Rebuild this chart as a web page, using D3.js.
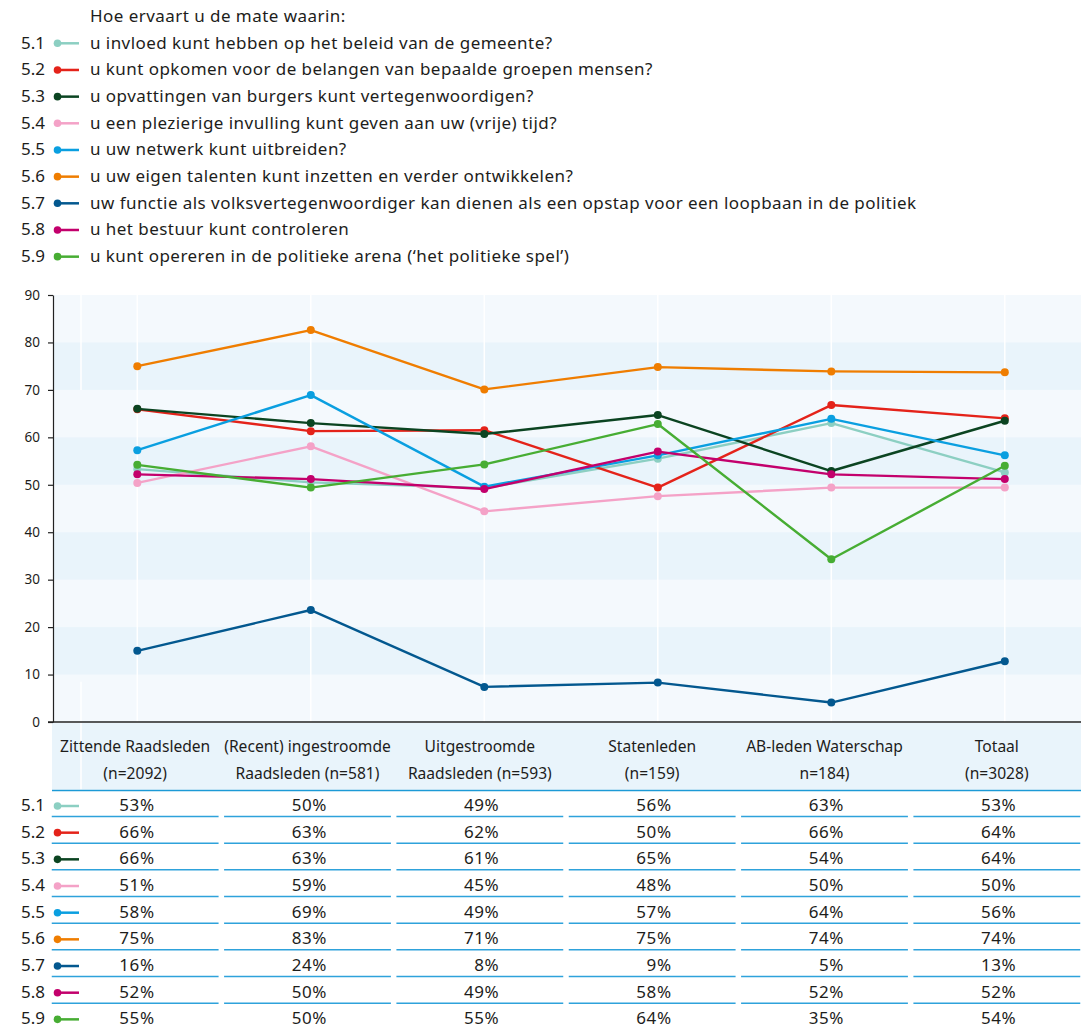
<!DOCTYPE html>
<html><head><meta charset="utf-8">
<script src="https://cdn.jsdelivr.net/npm/d3@7"></script>
<style>
body{margin:0;background:#fff;}
svg{display:block;font-family:"Noto Sans",sans-serif;}
</style></head><body>
<svg id="c" width="1081" height="1027"></svg>
<script>
const legendTitle = "Hoe ervaart u de mate waarin:";
const categories = ["Zittende Raadsleden (n=2092)","(Recent) ingestroomde Raadsleden (n=581)","Uitgestroomde Raadsleden (n=593)","Statenleden (n=159)","AB-leden Waterschap n=184)","Totaal (n=3028)"];
const headerLine1 = ["Zittende Raadsleden","(Recent) ingestroomde","Uitgestroomde","Statenleden","AB-leden Waterschap","Totaal"];
const headerLine2 = ["(n=2092)","Raadsleden (n=581)","Raadsleden (n=593)","(n=159)","n=184)","(n=3028)"];
const seriesCodes = ["5.1","5.2","5.3","5.4","5.5","5.6","5.7","5.8","5.9"];
const seriesLabels = [
  "u invloed kunt hebben op het beleid van de gemeente?",
  "u kunt opkomen voor de belangen van bepaalde groepen mensen?",
  "u opvattingen van burgers kunt vertegenwoordigen?",
  "u een plezierige invulling kunt geven aan uw (vrije) tijd?",
  "u uw netwerk kunt uitbreiden?",
  "u uw eigen talenten kunt inzetten en verder ontwikkelen?",
  "uw functie als volksvertegenwoordiger kan dienen als een opstap voor een loopbaan in de politiek",
  "u het bestuur kunt controleren",
  "u kunt opereren in de politieke arena (\u2018het politieke spel\u2019)"
];
const seriesColors = ["#8ccfc2","#e4231a","#0b4421","#f4a2c7","#0a9fe0","#ef7d00","#03588f","#c3006c","#47ad33"];
// values plotted in the chart
const s51 = [53.3, 50.5, 49.3, 55.5, 63.0, 52.6];
const s52 = [65.9, 61.3, 61.5, 49.4, 66.8, 64.0];
const s53 = [66.0, 63.0, 60.7, 64.7, 52.9, 63.5];
const s54 = [50.4, 58.1, 44.4, 47.6, 49.4, 49.4];
const s55 = [57.3, 68.9, 49.6, 56.2, 63.9, 56.2];
const s56 = [75.0, 82.6, 70.1, 74.8, 73.9, 73.7];
const s57 = [15.0, 23.6, 7.4, 8.3, 4.1, 12.8];
const s58 = [52.2, 51.2, 49.1, 57.0, 52.2, 51.2];
const s59 = [54.2, 49.4, 54.3, 62.8, 34.3, 54.0];
// values printed in the table
const t51 = [53, 50, 49, 56, 63, 53];
const t52 = [66, 63, 62, 50, 66, 64];
const t53 = [66, 63, 61, 65, 54, 64];
const t54 = [51, 59, 45, 48, 50, 50];
const t55 = [58, 69, 49, 57, 64, 56];
const t56 = [75, 83, 71, 75, 74, 74];
const t57 = [16, 24, 8, 9, 5, 13];
const t58 = [52, 50, 49, 58, 52, 52];
const t59 = [55, 50, 55, 64, 35, 54];
const yTicks = [0, 10, 20, 30, 40, 50, 60, 70, 80, 90];

const chartSeries = [s51,s52,s53,s54,s55,s56,s57,s58,s59];
const tableSeries = [t51,t52,t53,t54,t55,t56,t57,t58,t59];

const svg = d3.select("#c");
const W = 1081;
const plotL = 53, plotR = 1081, plotT = 295, plotB = 722;
const textCol = "#1d1d1b";
const ff = "\"Noto Sans\",sans-serif";

const y = d3.scaleLinear().domain([0, 90]).range([plotB, plotT]);
const x = d3.scalePoint().domain(categories).range([137.3, 1004.8]);
const color = d3.scaleOrdinal().domain(seriesCodes).range(seriesColors);

// ---------- top legend ----------
const legStep = 26.67, legY0 = 43.3;
svg.append("text").attr("x", 90).attr("y", 21.7).attr("font-size", 17).attr("letter-spacing", 0.45).attr("fill", textCol).text(legendTitle);
const leg = svg.append("g").selectAll("g").data(seriesCodes).join("g")
  .attr("transform", (d, i) => `translate(0,${legY0 + i * legStep})`);
leg.append("text").attr("x", 45).attr("y", 5.5).attr("text-anchor", "end").attr("font-size", 17).attr("fill", textCol).text(d => d);
leg.append("line").attr("x1", 57).attr("x2", 79).attr("stroke", d => color(d)).attr("stroke-width", 2.5);
leg.append("circle").attr("cx", 57.5).attr("r", 3.8).attr("fill", d => color(d));
leg.append("text").attr("x", 90).attr("y", 5.5).attr("font-size", 17).attr("letter-spacing", 0.45).attr("fill", textCol).text((d, i) => seriesLabels[i]);

// ---------- plot background ----------
svg.append("rect").attr("x", plotL).attr("y", plotT).attr("width", plotR - plotL).attr("height", plotB - plotT).attr("fill", "#f4f9fd");
const bandStarts = yTicks.slice(0, -1).filter(v => (v / 10) % 2 === 1);
svg.append("g").selectAll("rect").data(bandStarts).join("rect")
  .attr("x", plotL).attr("width", plotR - plotL)
  .attr("y", d => y(d + 10)).attr("height", d => y(d) - y(d + 10))
  .attr("fill", "#e9f4fb");
// vertical white grid lines at categories
svg.append("g").selectAll("line").data(categories).join("line")
  .attr("x1", d => x(d)).attr("x2", d => x(d)).attr("y1", plotT).attr("y2", plotB)
  .attr("stroke", "#ffffff").attr("stroke-width", 1.5);

// ---------- table header background ----------
const tx = d3.scaleBand().domain(categories).range([49, 1083]);
const bw = tx.bandwidth();
const headTop = 723, headBot = 789.5;
svg.append("rect").attr("x", 52).attr("y", headTop).attr("width", W - 52).attr("height", headBot - headTop).attr("fill", "#e9f4fb");

// faint white rule left in the original (partial)
const ghostX = 81;
svg.append("line").attr("x1", ghostX).attr("x2", ghostX).attr("y1", plotT).attr("y2", y(70)).attr("stroke", "#fff").attr("stroke-width", 1.5);
svg.append("line").attr("x1", ghostX).attr("x2", ghostX).attr("y1", y(8.5)).attr("y2", headBot).attr("stroke", "#fff").attr("stroke-width", 1.5);

// ---------- axes ----------
const yAxis = svg.append("g").attr("transform", `translate(${plotL},0)`)
  .call(d3.axisLeft(y).tickValues(yTicks).tickSize(5).tickPadding(8).tickSizeOuter(0));
yAxis.select(".domain").attr("stroke", "#222").attr("stroke-width", 1.2);
yAxis.selectAll(".tick line").attr("stroke", "#222").attr("stroke-width", 1.2);
yAxis.selectAll(".tick text").attr("font-size", 13.5).attr("fill", textCol).attr("font-family", ff);
svg.append("line").attr("x1", 48).attr("x2", W).attr("y1", plotB).attr("y2", plotB).attr("stroke", "#222").attr("stroke-width", 1.4);

// ---------- lines ----------
const lineGen = d3.line().x((d, i) => x(categories[i])).y(d => y(d));
const sg = svg.append("g").selectAll("g").data(seriesCodes).join("g");
sg.append("path").attr("d", (d, i) => lineGen(chartSeries[i])).attr("fill", "none")
  .attr("stroke", d => color(d)).attr("stroke-width", 2.4).attr("stroke-linejoin", "round");
sg.selectAll("circle").data((d, i) => chartSeries[i].map((v, j) => ({v, j, code: d}))).join("circle")
  .attr("cx", d => x(categories[d.j])).attr("cy", d => y(d.v)).attr("r", 4)
  .attr("fill", d => color(d.code));

// ---------- table ----------
const hd = svg.append("g").selectAll("g").data(categories).join("g");
hd.append("text").attr("x", d => tx(d) + bw / 2).attr("y", 752).attr("text-anchor", "middle")
  .attr("font-size", 15.6).attr("fill", textCol).text((d, i) => headerLine1[i]);
hd.append("text").attr("x", d => tx(d) + bw / 2).attr("y", 779).attr("text-anchor", "middle")
  .attr("font-size", 15.6).attr("fill", textCol).text((d, i) => headerLine2[i]);
svg.append("line").attr("x1", 52).attr("x2", W).attr("y1", 790.5).attr("y2", 790.5).attr("stroke", "#1c9ad6").attr("stroke-width", 1.6);

const rowY = d3.scaleBand().domain(seriesCodes).range([790, 790 + 9 * 26.67]);
const rows = svg.append("g").selectAll("g").data(seriesCodes).join("g")
  .attr("transform", d => `translate(0,${rowY(d)})`);
rows.append("text").attr("x", 45).attr("y", 21).attr("text-anchor", "end").attr("font-size", 17).attr("fill", textCol).text(d => d);
rows.append("line").attr("x1", 57).attr("x2", 79).attr("y1", 16).attr("y2", 16).attr("stroke", d => color(d)).attr("stroke-width", 2.5);
rows.append("circle").attr("cx", 57.5).attr("cy", 16).attr("r", 3.8).attr("fill", d => color(d));
rows.each(function (code, i) {
  const g = d3.select(this);
  g.selectAll("text.v").data(tableSeries[i]).join("text").attr("class", "v")
    .attr("x", (v, j) => tx(categories[j]) + bw / 2 + 19.5).attr("y", 21).attr("text-anchor", "end")
    .attr("font-size", 17).attr("letter-spacing", 0.6).attr("fill", textCol).text(v => v + "%");
  if (i < seriesCodes.length - 1) {
    g.selectAll("line.sep").data(categories).join("line").attr("class", "sep")
      .attr("x1", d => tx(d) + 2.75).attr("x2", d => Math.min(W, tx(d) + bw - 2.75))
      .attr("y1", 26.5).attr("y2", 26.5).attr("stroke", "#2ea2db").attr("stroke-width", 1.5);
  }
});
</script>
</body></html>
